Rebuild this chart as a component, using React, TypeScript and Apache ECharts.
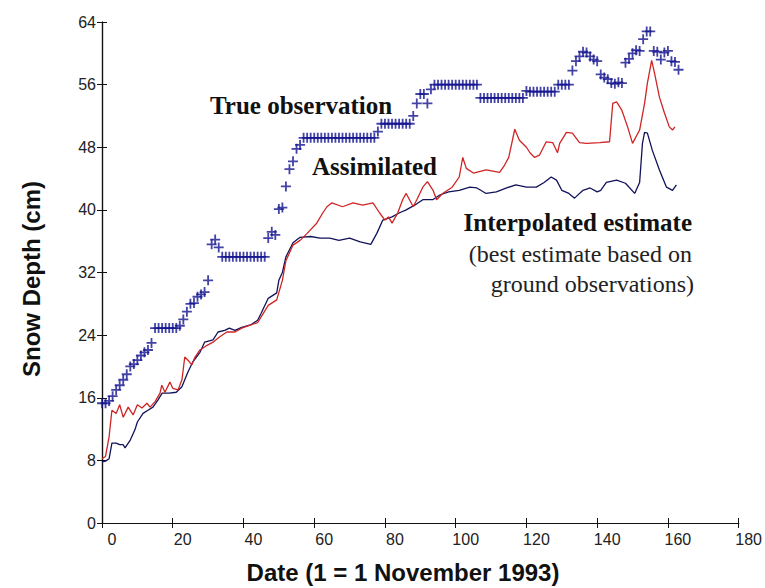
import React, { useEffect, useRef } from "react";
import * as echarts from "echarts";

// Axis ranges / ticks
const X_MIN = 0, X_MAX = 180, X_STEP = 20;
const Y_MIN = 0, Y_MAX = 64, Y_STEP = 8;

// True observation (one value per day, starting at day 0)
const obsDepth = [
  15.3, 15.3, 15.6, 16.2, 17, 17.6, 18.3, 19, 20, 20.3,
  20.8, 21.4, 21.8, 22.1, 23, 24.9, 24.9, 24.9, 24.9, 24.9,
  24.9, 24.9, 25.2, 26, 27, 28, 28.1, 28.9, 29.2, 29.5,
  31, 35.6, 36.2, 35.2, 34, 34, 34, 34, 34, 34,
  34, 34, 34, 34, 34, 34, 34, 36.4, 37.2, 36.8,
  40.1, 40.3, 43, 45.2, 46.2, 47.8, 48.3, 49.2, 49.2, 49.2,
  49.2, 49.2, 49.2, 49.2, 49.2, 49.2, 49.2, 49.2, 49.2, 49.2,
  49.2, 49.2, 49.2, 49.2, 49.2, 49.2, 49.2, 49.2, 50, 51,
  51, 51, 51, 51, 51, 51, 51, 51, 52, 53.6,
  54.8, 54.8, 53.6, 55.4, 56, 56, 56, 56, 56, 56,
  56, 56, 56, 56, 56, 56, 56, 54.3, 54.3, 54.3,
  54.3, 54.3, 54.3, 54.3, 54.3, 54.3, 54.3, 54.3, 54.3, 54.3,
  55.2, 55.1, 55.1, 55.1, 55.1, 55.1, 55.1, 55.1, 55.1, 56,
  56, 56, 56, 57.8, 59, 59.6, 60.2, 60.1, 59.6, 59.2,
  59, 57.3, 56.9, 56.7, 56.2, 56.1, 56.3, 56.2, 58.8, 59.3,
  60, 60.4, 60.3, 61.8, 62.8, 62.8, 60.3, 60.2, 59.2, 60.1,
  60.3, 59, 58.9, 57.9,
];

// Assimilated (red line)
const assimDays = [
  0, 1, 2, 2.8, 4, 5, 6, 7.4, 8.8, 10, 11.3, 12.7, 13.6, 15, 16.4, 16.9, 17.8, 19.2, 20, 21.5,
  22.6, 23.4, 24.3, 25.4, 26.3, 27.7, 29.7, 31.4, 33.3, 35.3, 37.6, 39.5, 44, 47, 49.4, 51, 52, 54, 56, 58,
  60.7, 62.4, 63.6, 65, 68, 71, 73.7, 76.6, 78.5, 80, 81, 82, 83.6, 85, 86, 88, 89, 90.7, 92, 93.6,
  94.6, 96.3, 99, 101, 102, 103, 105, 108.6, 112.4, 113.8, 115, 116.7, 118, 120, 121, 122.3, 123.7, 125.6, 127.4, 128.8,
  129.4, 131.3, 133, 135, 137, 140.7, 143.5, 144.4, 145.5, 147, 148.6, 150, 152, 153.4, 154.2, 155.4, 156.2, 157.6, 159, 160.4,
  161.3, 162,
];
const assimDepth = [
  8.2, 8.5, 11, 14.4, 14, 15.1, 13.5, 14.8, 13.8, 15.1, 14.7, 15.3, 14.8, 15.5, 16.6, 17.6, 16.7, 18, 17.2, 17,
  18.3, 21.2, 20.8, 20.2, 21.2, 22.1, 22.7, 23.1, 23.8, 24.4, 24.4, 24.9, 25.6, 27.8, 28.5, 31, 33.5, 35.5, 36.1, 37,
  38.3, 39.6, 40.4, 40.9, 40.4, 40.9, 40.6, 40.9, 39.6, 38.7, 39.1, 38.3, 39.6, 41.3, 42.1, 40.4, 41.3, 42.9, 43.6, 42.5,
  41.3, 42.1, 42.9, 44.2, 46.7, 45.3, 44.7, 45.1, 44.8, 45.7, 46.7, 50.3, 48.9, 48, 47.3, 46.7, 47, 48.7, 48.6, 47.3,
  48.5, 49.9, 49.8, 48.6, 48.5, 48.6, 48.7, 53.6, 53.8, 52.7, 50.6, 48.5, 50.2, 53.6, 56.2, 59.1, 57.5, 54.4, 52.4, 50.6,
  50.2, 50.6,
];

// Interpolated estimate (navy line)
const interpDays = [
  0, 1, 2, 2.8, 4, 5, 6, 6.5, 8, 9.3, 10, 11.6, 13, 14.4, 15.8, 17, 19, 21, 22.6, 23.4,
  24.3, 25.7, 27.7, 29, 31.4, 32.8, 34.7, 36, 37.6, 39.5, 42, 44, 45, 47, 49.4, 50, 51, 52, 54, 56,
  59, 61.6, 64.4, 67, 70, 73, 76, 77.7, 79.4, 82, 84, 86, 88.4, 90.7, 93.5, 95.5, 98, 101, 104, 106,
  108.6, 111.5, 114.4, 117, 120, 122.8, 125, 127, 128.5, 130, 132, 133.6, 136, 138, 140, 141, 142.6, 145.5, 148, 150.6,
  152, 152.8, 153.4, 154.2, 155.6, 157.6, 159.6, 161.3, 162.4,
];
const interpDepth = [
  7.8, 7.9, 8.2, 10.2, 10.2, 10, 10, 9.6, 10.6, 11.9, 12.9, 14, 14.4, 14.8, 15.7, 16.6, 16.6, 16.7, 17.4, 18.3,
  19.3, 20.6, 21.8, 23.1, 23.4, 24.4, 24.6, 24.9, 24.6, 25, 25.3, 25.9, 26.8, 28.7, 29.4, 31, 32, 34, 35.8, 36.5,
  36.6, 36.4, 36.4, 36.1, 36.4, 35.9, 35.6, 37, 38.7, 39.1, 39.6, 40, 40.6, 41.3, 41.3, 41.9, 42.3, 42.5, 42.9, 42.8,
  42.1, 42.3, 42.8, 43.2, 42.9, 42.9, 43.5, 44.2, 43.8, 42.5, 42.1, 41.5, 42.5, 42.8, 42.3, 42.5, 43.5, 43.8, 43.4, 42.1,
  43.5, 48.5, 49.9, 49.8, 47.6, 45.1, 42.9, 42.5, 43.2,
];

const SANS = "'Liberation Sans', Arial, sans-serif";
const SERIF = "'Liberation Serif', 'Times New Roman', serif";

const PLUS = "path://M0,4.1L10,4.1L10,5.9L0,5.9Z M4.1,0L5.9,0L5.9,10L4.1,10Z";

export default function App() {
  const ref = useRef<HTMLDivElement>(null);

  useEffect(() => {
    if (!ref.current) return;
    const chart = echarts.init(ref.current, undefined, { renderer: "svg" });

    const axisLine = { show: true, lineStyle: { color: "#111", width: 1.2 } };
    const tick = { show: true, inside: true, length: 5, lineStyle: { color: "#111", width: 1 } };

    chart.setOption({
      animation: false,
      backgroundColor: "#ffffff",
      grid: { left: 102, right: 26, top: 22, bottom: 65, containLabel: false },
      xAxis: [
        {
          type: "value",
          min: X_MIN,
          max: X_MAX,
          interval: X_STEP,
          position: "bottom",
          axisLine,
          axisTick: tick,
          splitLine: { show: false },
          axisLabel: {
            color: "#222",
            fontFamily: SANS,
            fontSize: 16,
            margin: 8,
            padding: [0, 0, 0, 20],
          },
        },
        {
          type: "value",
          min: X_MIN,
          max: X_MAX,
          interval: X_STEP,
          position: "top",
          axisLine,
          axisTick: tick,
          splitLine: { show: false },
          axisLabel: { show: false },
        },
      ],
      yAxis: [
        {
          type: "value",
          min: Y_MIN,
          max: Y_MAX,
          interval: Y_STEP,
          position: "left",
          axisLine,
          axisTick: tick,
          splitLine: { show: false },
          axisLabel: { color: "#222", fontFamily: SANS, fontSize: 16, margin: 6 },
        },
        {
          type: "value",
          min: Y_MIN,
          max: Y_MAX,
          interval: Y_STEP,
          position: "right",
          axisLine,
          axisTick: tick,
          splitLine: { show: false },
          axisLabel: { show: false },
        },
      ],
      series: [
        {
          name: "Interpolated estimate",
          type: "line",
          data: interpDays.map((d, i) => [d, interpDepth[i]]),
          showSymbol: false,
          symbol: "none",
          lineStyle: { color: "#12125a", width: 1.3 },
          z: 3,
        },
        {
          name: "Assimilated",
          type: "line",
          data: assimDays.map((d, i) => [d, assimDepth[i]]),
          showSymbol: false,
          symbol: "none",
          lineStyle: { color: "#d02424", width: 1.3 },
          z: 4,
        },
        {
          name: "True observation",
          type: "scatter",
          data: obsDepth.map((v, i) => [i, v]),
          symbol: PLUS,
          symbolSize: 10,
          itemStyle: { color: "#141490" },
          z: 5,
        },
      ],
      graphic: [
        {
          type: "text",
          x: 210,
          y: 105,
          style: {
            text: "True observation",
            font: `bold 25px ${SERIF}`,
            fill: "#111",
            align: "left",
            verticalAlign: "middle",
          },
        },
        {
          type: "text",
          x: 312,
          y: 166,
          style: {
            text: "Assimilated",
            font: `bold 25px ${SERIF}`,
            fill: "#111",
            align: "left",
            verticalAlign: "middle",
          },
        },
        {
          type: "text",
          x: 692,
          y: 222,
          style: {
            text: "Interpolated estimate",
            font: `bold 25px ${SERIF}`,
            fill: "#111",
            align: "right",
            verticalAlign: "middle",
          },
        },
        {
          type: "text",
          x: 692,
          y: 254,
          style: {
            text: "(best estimate based on",
            font: `24px ${SERIF}`,
            fill: "#222",
            align: "right",
            verticalAlign: "middle",
          },
        },
        {
          type: "text",
          x: 694,
          y: 284,
          style: {
            text: "ground observations)",
            font: `24px ${SERIF}`,
            fill: "#222",
            align: "right",
            verticalAlign: "middle",
          },
        },
        {
          type: "text",
          x: 403,
          y: 572,
          style: {
            text: "Date (1 = 1 November 1993)",
            font: `bold 24px ${SANS}`,
            fill: "#111",
            align: "center",
            verticalAlign: "middle",
          },
        },
        {
          type: "text",
          x: 31,
          y: 279,
          rotation: Math.PI / 2,
          style: {
            text: "Snow Depth (cm)",
            font: `bold 24px ${SANS}`,
            fill: "#111",
            align: "center",
            verticalAlign: "middle",
          },
        },
      ],
    });

    return () => chart.dispose();
  }, []);

  return (
    <div
      ref={ref}
      style={{ position: "fixed", left: 0, top: 0, width: 765, height: 588, background: "#fff" }}
    />
  );
}
